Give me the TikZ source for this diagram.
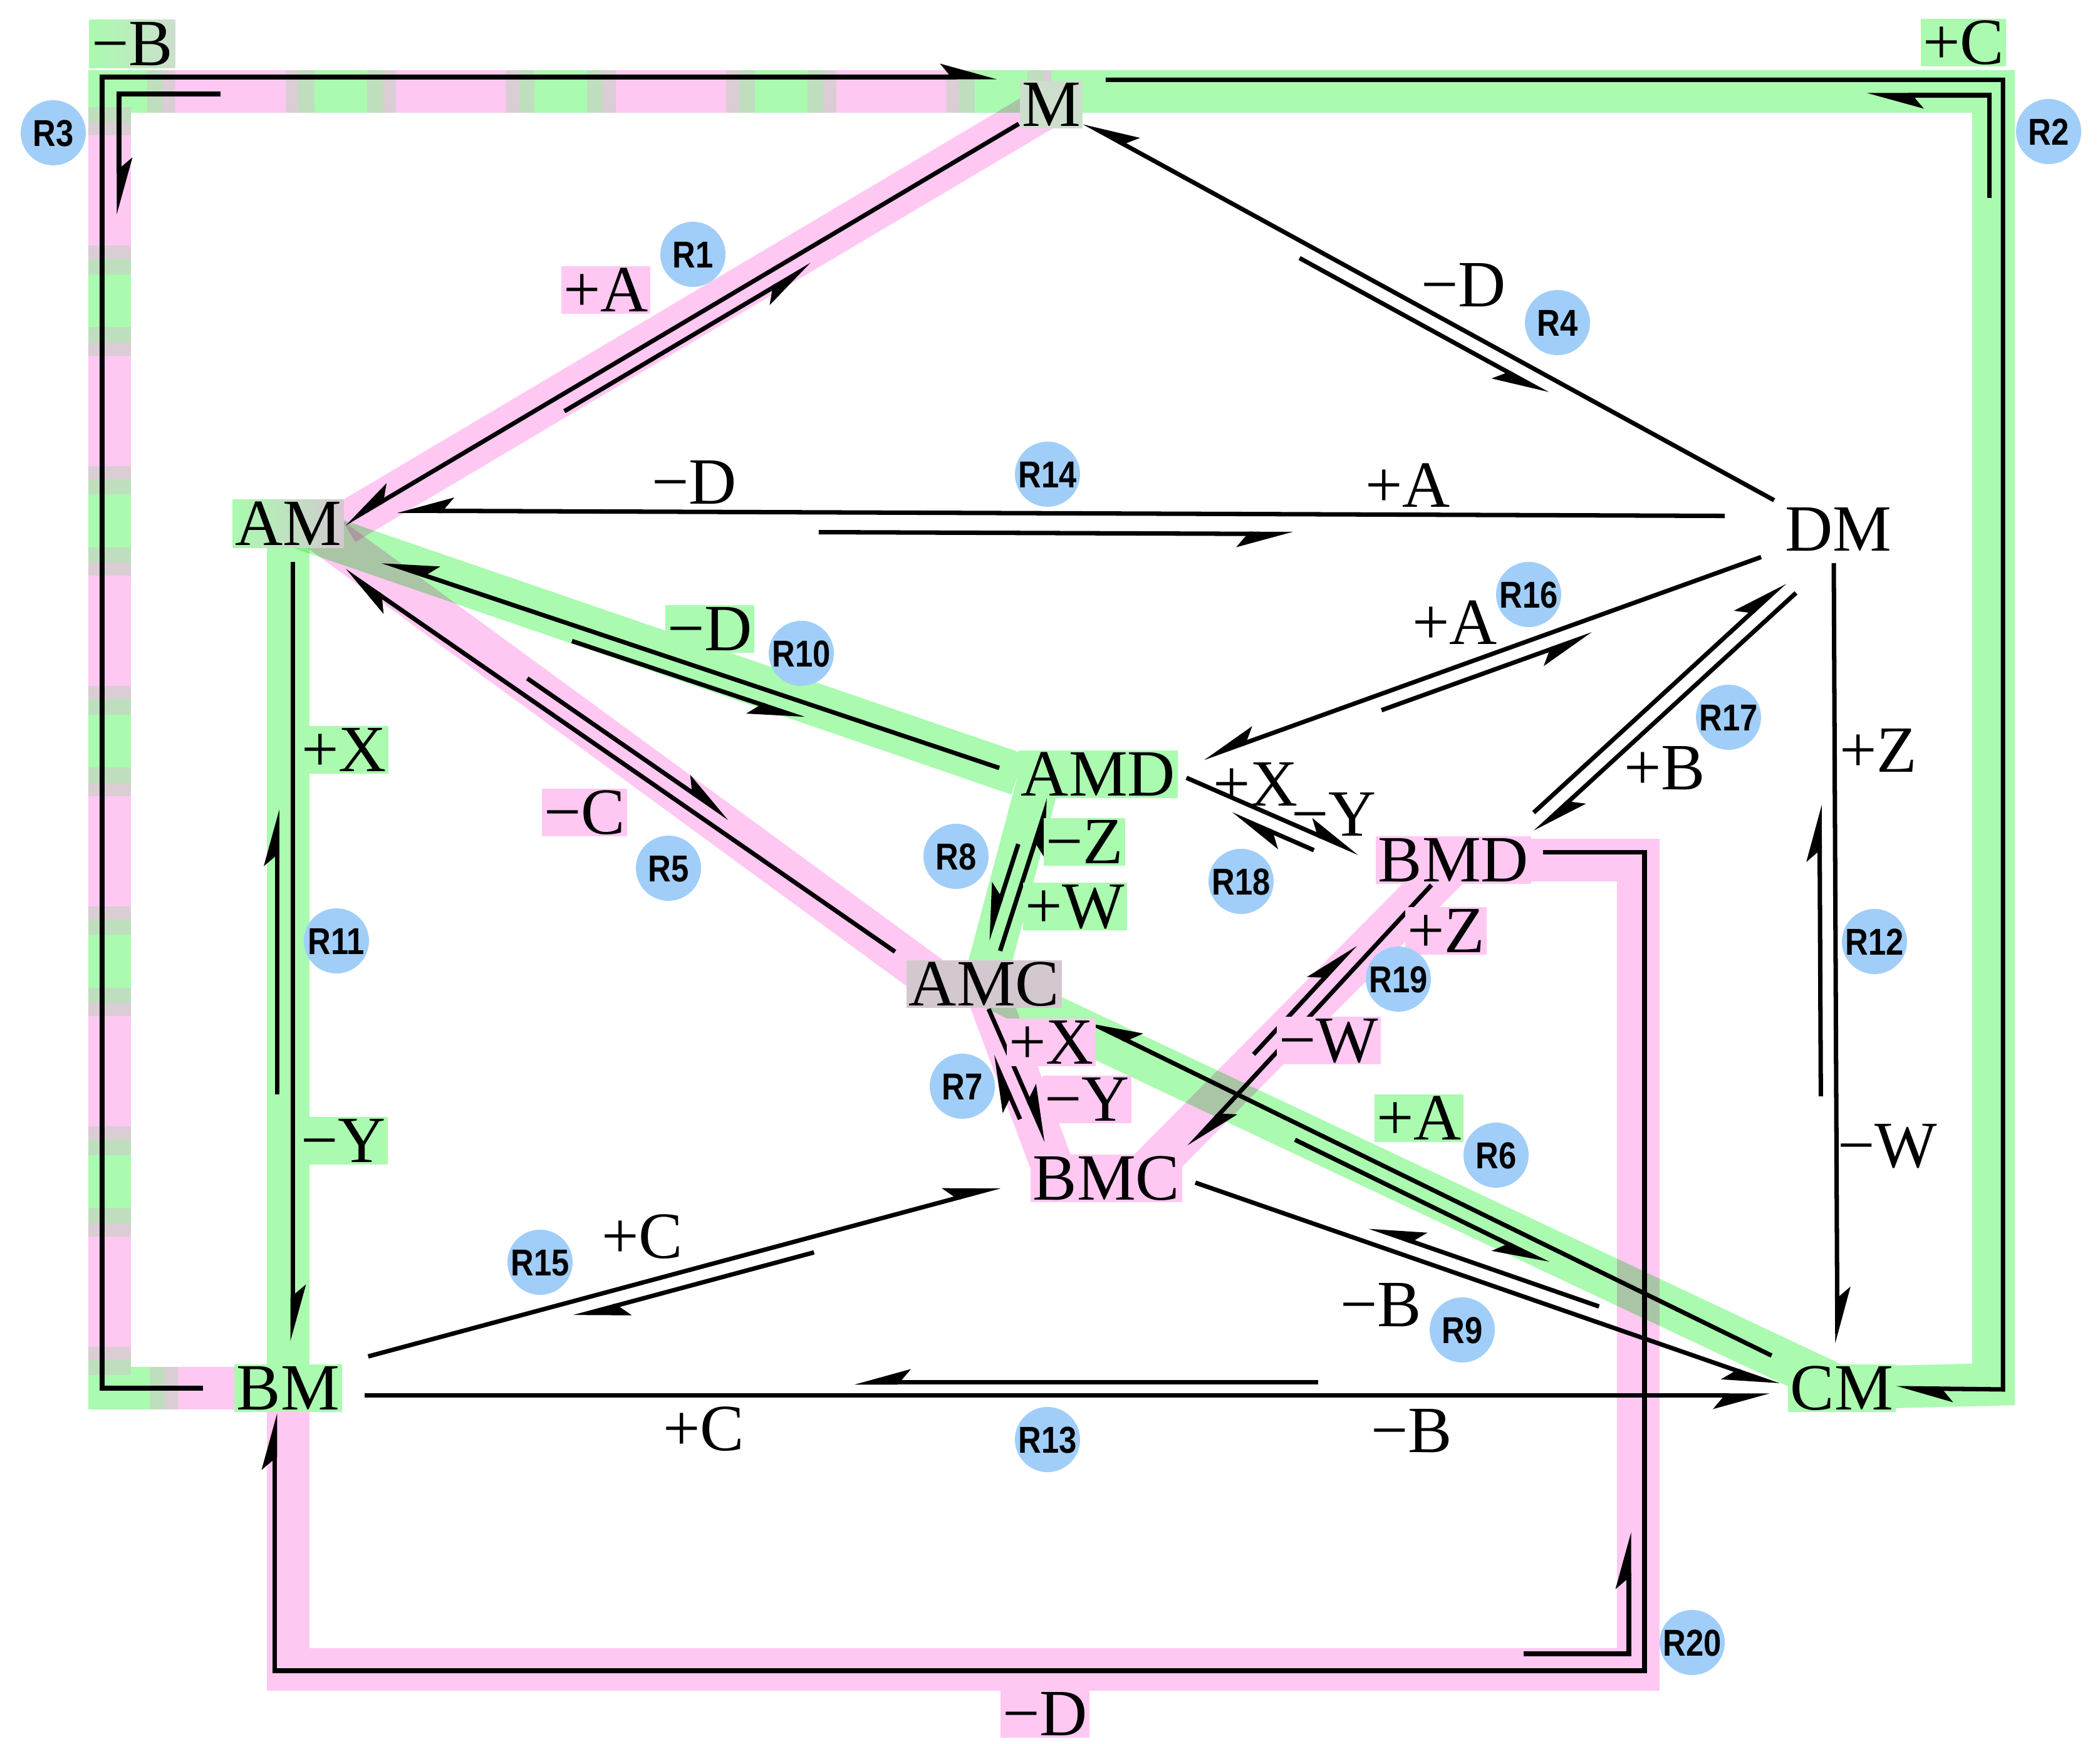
\documentclass[tikz,border=0pt]{standalone}
\usepackage{fontspec}
\setmainfont{Liberation Serif}
\newfontfamily\rfont[FakeStretch=0.85]{Liberation Sans}
\usetikzlibrary{arrows.meta,calc,backgrounds}
\definecolor{hlgreen}{RGB}{170,250,175}
\definecolor{hlpink}{RGB}{255,200,242}
\definecolor{rblue}{RGB}{160,206,248}
\definecolor{mixgray}{RGB}{212,200,208}
\definecolor{mixgreen}{RGB}{205,222,205}
\definecolor{stripeg}{RGB}{190,222,190}
\definecolor{stripep}{RGB}{218,205,212}

\begin{document}
\begin{tikzpicture}[x=0.5cm,y=-0.5cm]
\tikzstyle{every node}=[inner sep=0.5pt, font=\fontsize{15}{18}\selectfont, text height=9.9pt, text depth=0pt]
\tikzstyle{gbox}=[fill=hlgreen]
\tikzstyle{pbox}=[fill=hlpink]
\tikzstyle{rlab}=[circle, fill=rblue, minimum size=0.52cm, inner sep=0pt, text height=6.1pt, font=\rfont\bfseries\fontsize{8.5}{9}\selectfont]
\tikzstyle{hl}=[line width=1pt, -{Stealth[harpoon, length=11pt, width=6pt, inset=2.5pt]}]
\tikzstyle{hr}=[line width=1pt, -{Stealth[harpoon, swap, length=11pt, width=6pt, inset=2.5pt]}]
\tikzstyle{band}=[line width=0.34cm, line join=miter]
\useasboundingbox (0,0) rectangle (33.52,27.84);

\node (M) at (16.78,1.67) [fill=mixgreen] {M};
\node (AM) at (4.60,8.36) [left color=hlgreen, right color=mixgray] {AM};
\node (DM) at (29.34,8.45) {DM};
\node (AMD) at (17.53,12.36) [gbox] {AMD};
\node (BMD) at (23.20,13.73) [pbox] {BMD};
\node (AMC) at (15.71,15.71) [fill=mixgray] {AMC};
\node (BMC) at (17.66,18.81) [pbox] {BMC};
\node (BM) at (4.60,22.16) [gbox] {BM};
\node (CM) at (29.40,22.16) [gbox] {CM};

\begin{scope}[on background layer]
\draw[band, hlgreen, postaction={draw, band, stripeg, dash pattern=on 38pt off 12pt, dash phase=6.5pt}, postaction={draw, band, stripep, dash pattern=on 31pt off 19pt, dash phase=3pt}, postaction={draw, band, hlpink, dash pattern=on 25pt off 25pt}] (BM.center) -| (1.75,1.46) -- (16.78,1.46);
\begin{scope}[blend mode=multiply]
\draw[band, hlgreen] (16.78,1.46) -- (31.82,1.46) -- (31.82,22.10) -- (CM.center);
\draw[band, hlpink] (M.center) -- (AM.east);
\draw[band, hlgreen] (AM.center) -- (AMD.west);
\draw[band, hlpink, shorten <=-8pt, shorten >=-8pt] (AM.south east) -- (AMC.north west);
\draw[band, hlgreen] (AM.center) -- (BM.center);
\draw[band, hlgreen] ([xshift=5pt]AMD.west) -- (AMC.center);
\draw[band, hlpink, shorten >=-6pt] (AMC.center) -- ([xshift=4pt]BMC.north west);
\draw[band, hlpink, shorten <=-6pt, shorten >=-6pt] ([xshift=-5pt]BMD.south) -- ([xshift=-4pt]BMC.north east);
\draw[band, hlgreen] (AMC.center) -- (CM.center);
\draw[band, hlpink] (BMD.center) -| (26.15,26.65) -| (BM.center);
\end{scope}
\end{scope}

\coordinate (c3) at (1.63,1.23);
\coordinate (c2) at (31.97,22.18);
\coordinate (c20) at (26.25,26.67);
\coordinate (amse) at ([yshift=-5pt]AM.south east);
\coordinate (amdne) at ([yshift=-4pt]AMD.north east);
\coordinate (bmds) at ([xshift=-5pt]BMD.south);
\coordinate (amcn) at ([xshift=3pt]AMC.north);
\coordinate (amdsw) at ([xshift=7pt]AMD.south west);
\coordinate (amcs) at ([xshift=1pt]AMC.south);
\coordinate (bmcnw) at ([xshift=5pt]BMC.north west);

\draw[hr] (M) -- (AM.east);
\draw[hr] ($(M)!0.70!(AM.east)!3.5pt!90:(AM.east)$) -- ($(M)!0.35!(AM.east)!3.5pt!90:(AM.east)$);
\draw[hl, shorten >=5pt] ([xshift=-7pt]BM.west) -| (c3) -- (M.north west |- c3);
\draw[hl] (3.52,1.50) -| (1.90,3.42);
\draw[hl] ([xshift=5pt]M.north east) -| (c2) -- (CM.east);
\draw[hl] (31.75,3.16) |- (29.80,1.52);
\draw[hr, shorten <=2pt] (DM.north west) -- (M);
\draw[hr] ($(DM.north west)!0.65!(M)!3.5pt!90:(M)$) -- ($(DM.north west)!0.31!(M)!3.5pt!90:(M)$);
\draw[hl, shorten <=3pt] (AMC.north west) -- (amse);
\draw[hl] ($(AMC.north west)!0.69!(amse)!3.5pt!-90:(amse)$) -- ($(AMC.north west)!0.33!(amse)!3.5pt!-90:(amse)$);
\draw[hr, shorten <=4pt, shorten >=6pt] (CM.north west) -- (AMC.south east);
\draw[hr] ($(CM.north west)!0.67!(AMC.south east)!3.5pt!90:(AMC.south east)$) -- ($(CM.north west)!0.32!(AMC.south east)!3.5pt!90:(AMC.south east)$);
\draw[hl, shorten >=3pt] (amcs) -- (bmcnw);
\draw[hl] ($(amcs)!0.72!(bmcnw)!3.5pt!-90:(bmcnw)$) -- ($(amcs)!0.28!(bmcnw)!3.5pt!-90:(bmcnw)$);
\draw[hr, shorten <=2pt] (amcn) -- (amdsw);
\draw[hr] ($(amcn)!0.69!(amdsw)!3.5pt!90:(amdsw)$) -- ($(amcn)!0.09!(amdsw)!3.5pt!90:(amdsw)$);
\draw[hr, shorten <=3pt, shorten >=2pt] (BMC.east) -- (CM.west);
\draw[hr] ($(BMC.east)!0.68!(CM.west)!3.5pt!90:(CM.west)$) -- ($(BMC.east)!0.30!(CM.west)!3.5pt!90:(CM.west)$);
\draw[hr, shorten <=4.5pt, shorten >=9pt] (AMD.west) -- (AM.south east);
\draw[hr] ($(AMD.west)!0.655!(AM.south east)!3.5pt!90:(AM.south east)$) -- ($(AMD.west)!0.31!(AM.south east)!3.5pt!90:(AM.south east)$);
\draw[hl, shorten <=3pt, shorten >=5pt] ([xshift=1pt]AM.south) -- ([xshift=1pt]BM.north);
\draw[hl] ([xshift=-2.5pt]$(AM.south)!0.67!(BM.north)$) -- ([xshift=-2.5pt]$(AM.south)!0.32!(BM.north)$);
\draw[hl, shorten <=2pt, shorten >=4.5pt] ([xshift=-1pt]DM.south) -- ([xshift=-1pt]CM.north);
\draw[hl] ([xshift=-4.5pt]$(DM.south)!0.67!(CM.north)$) -- ([xshift=-4.5pt]$(DM.south)!0.31!(CM.north)$);
\draw[hr, shorten <=5pt, shorten >=4pt] ([yshift=-1.7pt]BM.east) -- ([yshift=-1.7pt]CM.west);
\draw[hr] ([yshift=1.3pt]$(BM.east)!0.675!(CM.west)$) -- ([yshift=1.3pt]$(BM.east)!0.354!(CM.west)$);
\draw[hr, shorten <=13pt, shorten >=12pt] ([yshift=3pt]DM.west) -- ([yshift=3pt]AM.east);
\draw[hr] ([yshift=-1.5pt]$(AM.east)!0.33!(DM.west)$) -- ([yshift=-1.5pt]$(AM.east)!0.66!(DM.west)$);
\draw[hl, shorten <=6pt, shorten >=7pt] (BM.north east) -- (BMC.west);
\draw[hl] ($(BM.north east)!0.68!(BMC.west)!3.5pt!-90:(BMC.west)$) -- ($(BM.north east)!0.33!(BMC.west)!3.5pt!-90:(BMC.west)$);
\draw[hr, shorten <=5pt, shorten >=6pt] (DM) -- (amdne);
\draw[hr] ($(DM)!0.70!(amdne)!3.5pt!90:(amdne)$) -- ($(DM)!0.38!(amdne)!3.5pt!90:(amdne)$);
\draw[hl, shorten <=13pt, shorten >=1pt] (DM.south) -- (BMD.north east);
\draw[hl] ($(DM.south)!0.96!(BMD.north east)!3.5pt!-90:(BMD.north east)$) -- ($(DM.south)!0.14!(BMD.north east)!3.5pt!-90:(BMD.north east)$);
\draw[hl, shorten <=2pt, shorten >=4pt] (AMD.east) -- (BMD.west);
\draw[hl] ($(AMD.east)!0.72!(BMD.west)!3.5pt!-90:(BMD.west)$) -- ($(AMD.east)!0.30!(BMD.west)!3.5pt!-90:(BMD.west)$);
\draw[hl, shorten >=2pt] (bmds) -- (BMC.north east);
\draw[hl] ($(bmds)!0.67!(BMC.north east)!3.5pt!-90:(BMC.north east)$) -- ($(bmds)!0.26!(BMC.north east)!3.5pt!-90:(BMC.north east)$);
\draw[hl] ([shift={(2.5pt,1.8pt)}]BMD.east) -| (c20) -| ([xshift=-3pt]BM.south);
\draw[hl] (24.32,26.40) -| (26.00,24.46);

\node (l3) at (2.11,0.70) [left color=hlgreen, right color=mixgreen] {−B};
\node (l2) at (31.34,0.68) [gbox] {+C};
\node (l1) at (9.67,4.63) [pbox] {+A};
\node (l4) at (23.36,4.55) {−D};
\node (l14a) at (11.08,7.70) {−D};
\node (l14b) at (22.47,7.75) {+A};
\node (l16) at (23.22,9.94) {+A};
\node (l10) at (11.33,10.04) [gbox] {−D};
\node (l11a) at (5.49,11.97) [gbox] {+X};
\node (l11b) at (5.48,18.21) [gbox] {−Y};
\node (l17) at (26.57,12.26) {+B};
\node (l12a) at (29.98,11.98) {+Z};
\node (l12b) at (30.13,18.29) {−W};
\node (l5) at (9.33,12.97) [pbox] {−C};
\node (l8a) at (17.31,13.44) [gbox] {−Z};
\node (l8b) at (17.16,14.47) [gbox] {+W};
\node (l18a) at (20.04,12.52) {+X};
\node (l18b) at (21.29,13.00) {−Y};
\node (l19a) at (23.08,14.86) [pbox] {+Z};
\node (l19b) at (21.21,16.61) [pbox] {−W};
\node (l7a) at (16.78,16.64) [pbox] {+X};
\node (l7b) at (17.35,17.55) [pbox] {−Y};
\node (l6) at (22.65,17.85) [gbox] {+A};
\node (l15) at (10.25,19.74) {+C};
\node (l9) at (22.04,20.83) {−B};
\node (l13a) at (11.23,22.81) {+C};
\node (l13b) at (22.53,22.84) {−B};
\node (l20) at (16.68,27.36) [pbox] {−D};

\node (r1) at (11.06,4.06) [rlab] {R1};
\node (r2) at (32.70,2.10) [rlab] {R2};
\node (r3) at (0.85,2.12) [rlab] {R3};
\node (r4) at (24.86,5.15) [rlab] {R4};
\node (r5) at (10.67,13.86) [rlab] {R5};
\node (r6) at (23.88,18.44) [rlab] {R6};
\node (r7) at (15.36,17.34) [rlab] {R7};
\node (r8) at (15.26,13.67) [rlab] {R8};
\node (r9) at (23.34,21.23) [rlab] {R9};
\node (r10) at (12.79,10.43) [rlab] {R10};
\node (r11) at (5.37,15.02) [rlab] {R11};
\node (r12) at (29.92,15.03) [rlab] {R12};
\node (r13) at (16.72,22.98) [rlab] {R13};
\node (r14) at (16.72,7.57) [rlab] {R14};
\node (r15) at (8.62,20.15) [rlab] {R15};
\node (r16) at (24.40,9.49) [rlab] {R16};
\node (r17) at (27.59,11.45) [rlab] {R17};
\node (r18) at (19.81,14.07) [rlab] {R18};
\node (r19) at (22.32,15.63) [rlab] {R19};
\node (r20) at (27.01,26.22) [rlab] {R20};
\end{tikzpicture}
\end{document}
